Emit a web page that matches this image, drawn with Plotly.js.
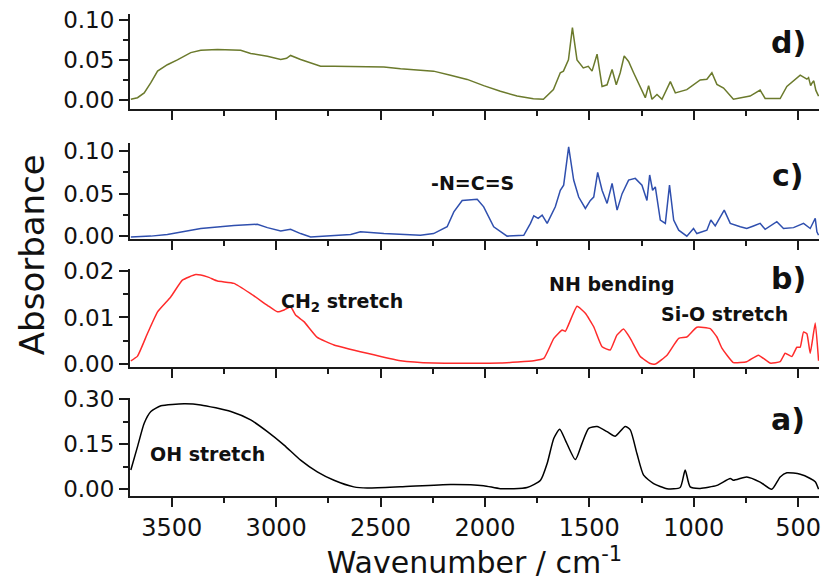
<!DOCTYPE html>
<html>
<head>
<meta charset="utf-8">
<script src="https://cdn.plot.ly/plotly-3.0.1.min.js"></script>
<style>html,body{margin:0;padding:0;background:#fff;}#chart{width:824px;height:583px;}</style>
</head>
<body>
<div id="chart"></div>
<script>
// ---- data (wavenumber in cm^-1, absorbance) ----
const wnD = [3696,3664,3632,3600,3568,3521,3473,3409,3361,3281,3170,3122,3042,2978,2950,2931,2883,2787,2723,2484,2404,2309,2246,2165,2085,2006,1926,1846,1768,1720,1672,1639,1624,1600,1581,1559,1529,1505,1487,1463,1439,1415,1391,1371,1352,1333,1312,1288,1256,1232,1216,1200,1176,1152,1112,1088,1033,969,937,913,889,857,810,730,682,658,586,554,490,458,450,440,434,425,415,402];
const absD = [0.001,0.003,0.009,0.0216,0.036,0.044,0.050,0.059,0.062,0.063,0.062,0.058,0.0546,0.0505,0.052,0.0555,0.0505,0.042,0.042,0.041,0.039,0.037,0.036,0.031,0.0257,0.018,0.011,0.005,0.0017,0.001,0.013,0.034,0.036,0.050,0.090,0.050,0.040,0.042,0.036,0.057,0.017,0.019,0.038,0.019,0.034,0.055,0.048,0.034,0.015,0.003,0.018,0.001,0.007,0.001,0.023,0.009,0.013,0.025,0.026,0.034,0.0195,0.015,0.001,0.005,0.0124,0.002,0.002,0.017,0.031,0.026,0.028,0.018,0.021,0.024,0.012,0.005];

const wnC = [3696,3600,3521,3361,3202,3090,3042,2978,2931,2883,2835,2723,2643,2596,2484,2309,2246,2181,2149,2109,2037,2006,1958,1894,1814,1782,1766,1745,1726,1702,1663,1639,1623,1599,1575,1551,1519,1495,1479,1460,1439,1415,1391,1367,1343,1312,1280,1248,1224,1211,1197,1184,1160,1136,1116,1096,1072,1033,1001,985,937,918,897,854,825,777,746,714,682,658,602,570,522,474,442,418,410,402];
const absC = [-0.001,0.000,0.002,0.009,0.0126,0.014,0.010,0.006,0.008,0.003,-0.001,0.001,0.002,0.005,0.003,0.001,0.003,0.011,0.0286,0.042,0.0435,0.0345,0.011,0.000,0.001,0.015,0.024,0.021,0.0247,0.015,0.0345,0.054,0.060,0.105,0.066,0.046,0.0326,0.042,0.046,0.075,0.054,0.0385,0.062,0.0306,0.050,0.066,0.068,0.060,0.042,0.072,0.054,0.058,0.0188,0.015,0.060,0.019,0.007,0.000,0.009,0.003,0.007,0.019,0.012,0.0306,0.015,0.011,0.009,0.012,0.015,0.008,0.017,0.009,0.010,0.015,0.009,0.021,0.005,0.001];

const wnB = [3696,3664,3616,3568,3505,3449,3385,3329,3281,3202,3122,3042,2994,2962,2931,2907,2867,2803,2723,2564,2404,2246,1926,1766,1718,1670,1630,1615,1559,1519,1479,1439,1400,1368,1336,1304,1256,1208,1184,1128,1072,1033,985,921,889,865,810,746,690,634,586,562,530,506,490,474,458,442,418,402];
const absB = [0.0007,0.0017,0.0066,0.0112,0.0144,0.018,0.0192,0.0187,0.0178,0.0173,0.0151,0.0126,0.0112,0.0116,0.0123,0.0105,0.0091,0.0057,0.0041,0.0023,0.0007,0.0002,0.0002,0.0007,0.0012,0.0055,0.0073,0.0070,0.0124,0.0109,0.0080,0.0037,0.0030,0.0062,0.0075,0.0055,0.0016,0.0001,0.0000,0.0019,0.0055,0.0058,0.0079,0.0076,0.0058,0.0034,0.0003,0.0005,0.0019,0.0002,0.0005,0.0023,0.0016,0.0036,0.0036,0.0069,0.0065,0.0023,0.0088,0.0007];

const wnA = [3696,3664,3632,3600,3552,3441,3361,3217,3122,3042,2962,2883,2803,2723,2628,2564,2404,2165,2006,1926,1798,1734,1702,1670,1642,1615,1567,1535,1503,1463,1415,1376,1328,1304,1272,1240,1192,1128,1065,1041,1017,969,889,825,810,746,682,626,586,554,490,442,418,402];
const absA = [0.064,0.142,0.220,0.259,0.278,0.2846,0.281,0.259,0.231,0.192,0.147,0.097,0.058,0.030,0.008,0.004,0.008,0.016,0.012,0.002,0.006,0.030,0.086,0.170,0.200,0.164,0.099,0.153,0.203,0.209,0.192,0.177,0.209,0.198,0.119,0.047,0.019,0.002,0.006,0.064,0.008,0.003,0.013,0.036,0.030,0.041,0.024,0.000,0.041,0.055,0.050,0.036,0.025,0.000];

const panelLabels = ['a)','b)','c)','d)'];
const xTickVals = [3500,3000,2500,2000,1500,1000,500];
const xTitle = 'Wavenumber / cm<sup>-1</sup>';
const yTitle = 'Absorbance';

// ---- style ----
const FONT = 'DejaVu Sans, Arial, sans-serif';
const AX = '#1a1a1a';
const traces = [
  {x: wnA, y: absA, xaxis: 'x',  yaxis: 'y',  mode: 'lines', line: {color: '#000000', width: 1.5, shape: 'spline', smoothing: 0.6}},
  {x: wnB, y: absB, xaxis: 'x2', yaxis: 'y2', mode: 'lines', line: {color: '#ff2b2b', width: 1.5, shape: 'spline', smoothing: 0.4}},
  {x: wnC, y: absC, xaxis: 'x3', yaxis: 'y3', mode: 'lines', line: {color: '#2f4fae', width: 1.5}},
  {x: wnD, y: absD, xaxis: 'x4', yaxis: 'y4', mode: 'lines', line: {color: '#6b7a2c', width: 1.5}}
];

function xax(anchor, showLabels) {
  const a = {
    anchor: anchor, domain: [0, 1], range: [3700, 400], autorange: false,
    tickvals: xTickVals, ticks: 'outside', ticklen: 9, tickwidth: 2, tickcolor: AX,
    showticklabels: showLabels, showline: true, linewidth: 2, linecolor: AX,
    showgrid: false, zeroline: false,
    tickfont: {family: FONT, size: 24, color: '#111'},
    minor: {dtick: 250, tick0: 0, ticks: 'outside', ticklen: 5, tickwidth: 2, tickcolor: AX, showgrid: false}
  };
  if (anchor !== 'y') a.matches = 'x';
  return a;
}
function yax(domain, range, dtick) {
  return {
    domain: domain, range: range, autorange: false, anchor: 'x',
    tick0: 0, dtick: dtick, tickformat: '.2f', ticks: 'outside', ticklen: 9, tickwidth: 2, tickcolor: AX,
    showline: true, linewidth: 2, linecolor: AX, showgrid: false, zeroline: false,
    tickfont: {family: FONT, size: 23, color: '#111'},
    minor: {dtick: dtick / 2, tick0: 0, ticks: 'outside', ticklen: 5, tickwidth: 2, tickcolor: AX, showgrid: false}
  };
}

const xa = xax('y', true);
xa.title = {text: xTitle, font: {family: FONT, size: 30, color: '#111'}, standoff: 4};

const layout = {
  width: 824, height: 583,
  margin: {l: 130, r: 5, t: 14, b: 87},
  paper_bgcolor: '#ffffff', plot_bgcolor: '#ffffff',
  showlegend: false,
  xaxis: xa,
  xaxis2: xax('y2', false),
  xaxis3: xax('y3', false),
  xaxis4: xax('y4', false),
  yaxis:  yax([0, 0.2033], [-0.0224, 0.304], 0.15),
  yaxis2: Object.assign(yax([0.268, 0.471], [-0.0006, 0.0204], 0.01), {anchor: 'x2'}),
  yaxis3: Object.assign(yax([0.533, 0.733], [-0.0035, 0.11], 0.05), {anchor: 'x3'}),
  yaxis4: Object.assign(yax([0.803, 1.0], [-0.011, 0.107], 0.05), {anchor: 'x4'}),
  annotations: [
    {text: yTitle, xref: 'paper', yref: 'paper', x: -0.142, y: 0.5, textangle: -90, showarrow: false,
     xanchor: 'center', yanchor: 'middle', font: {family: FONT, size: 34, color: '#111'}},
    {text: '<b>' + panelLabels[3] + '</b>', xref: 'x4', yref: 'y4', x: 548, y: 0.0716, showarrow: false, font: {family: FONT, size: 30, color: '#111'}},
    {text: '<b>' + panelLabels[2] + '</b>', xref: 'x3', yref: 'y3', x: 548, y: 0.0718, showarrow: false, font: {family: FONT, size: 30, color: '#111'}},
    {text: '<b>' + panelLabels[1] + '</b>', xref: 'x2', yref: 'y2', x: 548, y: 0.0184, showarrow: false, font: {family: FONT, size: 30, color: '#111'}},
    {text: '<b>' + panelLabels[0] + '</b>', xref: 'x',  yref: 'y',  x: 548, y: 0.231, showarrow: false, font: {family: FONT, size: 30, color: '#111'}},
    {text: '<b>-N=C=S</b>', xref: 'x3', yref: 'y3', x: 2061, y: 0.063, showarrow: false, font: {family: FONT, size: 19, color: '#111'}},
    {text: '<b>CH<sub>2</sub> stretch</b>', xref: 'x2', yref: 'y2', x: 2687, y: 0.0132, showarrow: false, font: {family: FONT, size: 19, color: '#111'}},
    {text: '<b>NH bending</b>', xref: 'x2', yref: 'y2', x: 1391, y: 0.0171, showarrow: false, font: {family: FONT, size: 19, color: '#111'}},
    {text: '<b>Si-O stretch</b>', xref: 'x2', yref: 'y2', x: 854, y: 0.01064, showarrow: false, font: {family: FONT, size: 19, color: '#111'}},
    {text: '<b>OH stretch</b>', xref: 'x', yref: 'y', x: 3328, y: 0.116, showarrow: false, font: {family: FONT, size: 19, color: '#111'}}
  ]
};

Plotly.newPlot('chart', traces, layout, {staticPlot: true, displayModeBar: false});
</script>
</body>
</html>
